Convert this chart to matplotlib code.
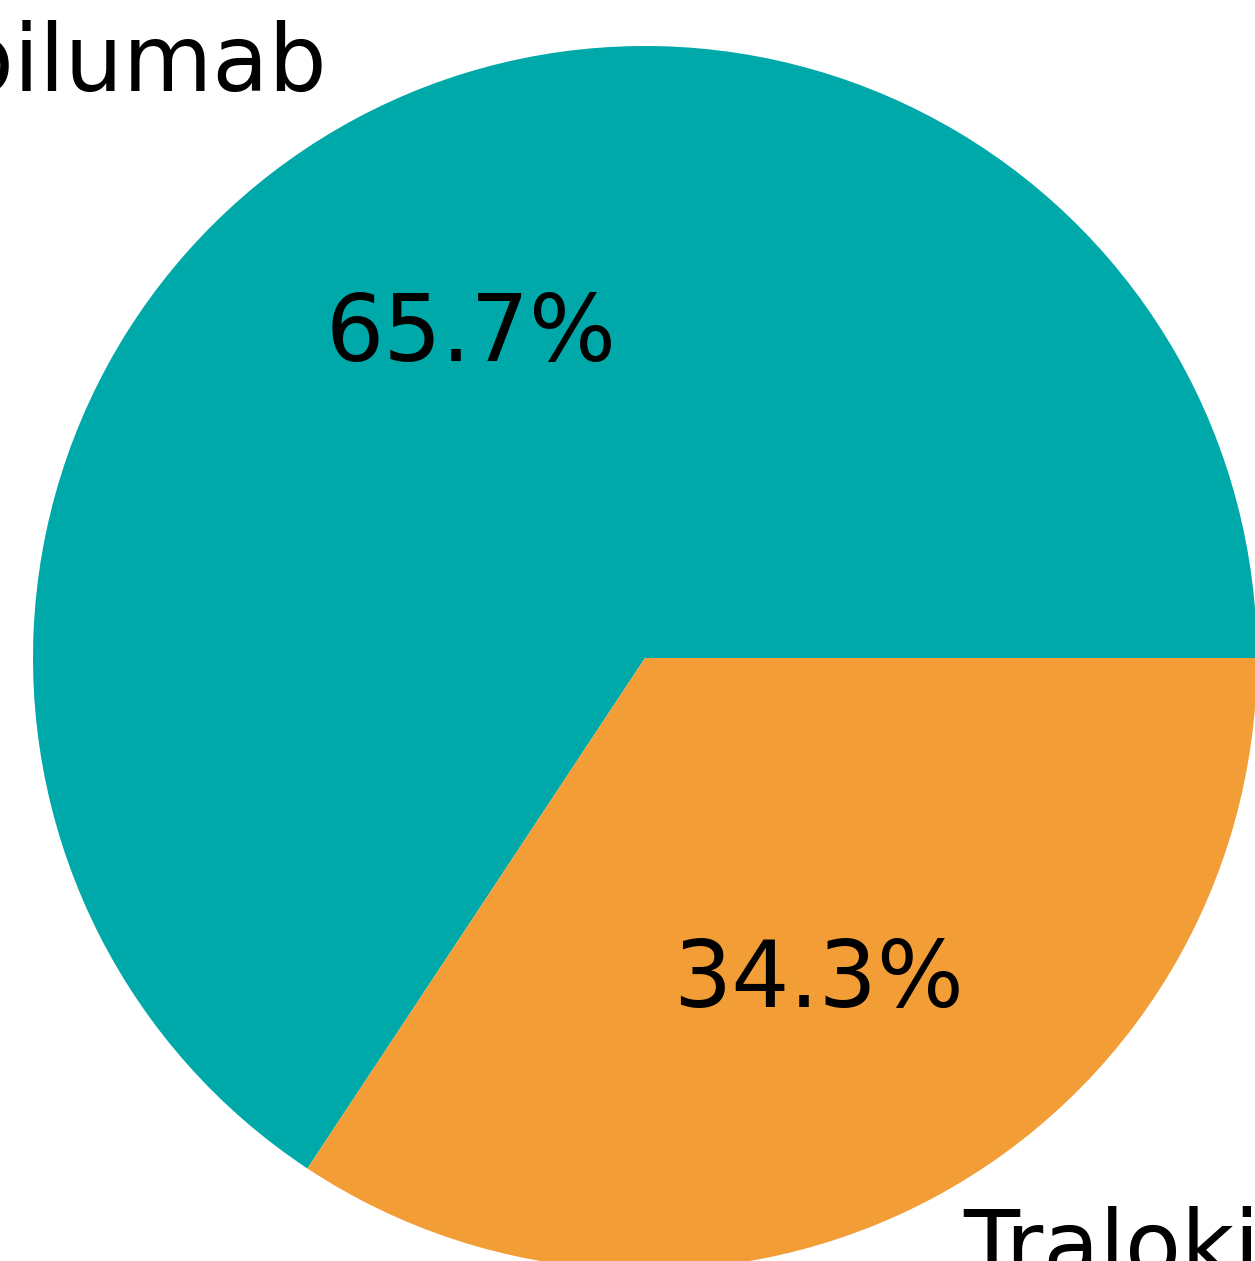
import matplotlib
matplotlib.use("Agg")
import matplotlib.pyplot as plt

labels = ["Dupilumab", "Tralokinumab"]
values = [65.7, 34.3]
colors = ["#00A9A9", "#F39D36"]

W, H = 1255, 1261
fig = plt.figure(figsize=(W / 100, H / 100), dpi=100)
ax = fig.add_axes([0, 0, 1, 1])
ax.pie(values, labels=labels, colors=colors, autopct="%1.1f%%", startangle=0,
       textprops={"fontsize": 66, "color": "black"})

R = 612.0
cx, cy = 645.0, 658.0
ax.set_aspect("auto")
ax.set_xlim(-cx / R, (W - cx) / R)
ax.set_ylim(-(H - cy) / R, cy / R)
ax.axis("off")
fig.savefig("out.png", dpi=100)
